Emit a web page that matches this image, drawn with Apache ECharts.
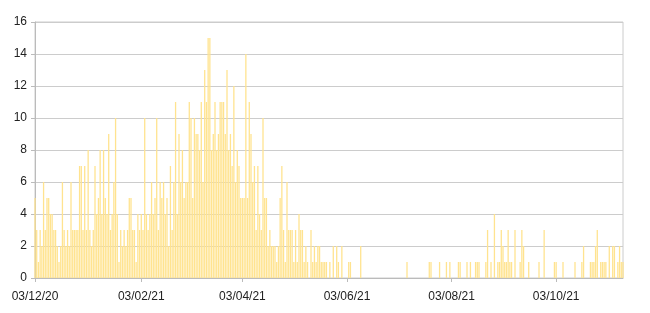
<!DOCTYPE html>
<html>
<head>
<meta charset="utf-8">
<script src="https://cdn.jsdelivr.net/npm/echarts@6/dist/echarts.min.js"></script>
<style>
html,body{margin:0;padding:0;background:#fff;}
#chart{width:650px;height:313px;}
</style>
</head>
<body>
<div id="chart"></div>
<script>
// First day of the daily series (3 Dec 2020); one category per day
var startDate = [2020, 12, 3];
// Daily values (344 days, 03/12/20 .. 11/11/21)
var dailyValues = [
  5,3,1,3,2,6,3,5,5,4,
  4,3,3,2,1,2,6,3,2,3,
  2,6,3,3,3,3,7,7,3,7,
  3,8,3,2,3,7,4,5,8,4,
  8,5,4,9,3,4,6,10,4,1,
  3,2,3,2,3,5,5,3,3,1,
  4,3,4,3,10,4,3,4,6,4,
  5,10,3,6,5,6,4,5,2,7,
  3,6,11,4,9,6,8,5,6,6,
  11,10,5,10,9,9,8,11,6,13,
  11,15,15,8,9,11,8,9,11,11,
  11,9,13,8,9,7,12,6,8,7,
  5,5,5,14,5,11,9,6,7,3,
  7,4,3,10,5,5,2,3,2,2,
  2,1,2,5,7,3,1,6,3,3,
  3,1,3,1,4,3,3,1,2,1,
  0,3,1,2,1,2,2,1,1,1,
  1,0,1,0,2,0,2,1,0,2,
  0,0,0,1,1,0,0,0,0,0,
  2,0,0,0,0,0,0,0,0,0,
  0,0,0,0,0,0,0,0,0,0,
  0,0,0,0,0,0,0,1,0,0,
  0,0,0,0,0,0,0,0,0,0,
  1,1,0,0,0,0,1,0,0,0,
  1,0,1,0,0,0,0,1,1,0,
  0,0,1,0,1,0,0,1,1,1,
  0,0,0,1,3,0,1,0,4,0,
  1,1,3,2,1,1,3,1,1,0,
  3,0,0,1,3,2,0,0,1,0,
  0,0,0,0,1,0,0,3,0,0,
  0,0,0,1,1,0,0,0,1,0,
  0,0,0,0,0,1,0,0,0,1,
  2,0,0,0,1,1,1,2,3,0,
  1,1,1,1,0,2,0,2,2,0,
  1,2,1,1
];
// Tick labels shown on the x axis
var xTickLabels = ['03/12/20','03/02/21','03/04/21','03/06/21','03/08/21','03/10/21'];
var yMin = 0, yMax = 16, yStep = 2;

function pad(n){ return (n < 10 ? '0' : '') + n; }
var categories = [];
var d = new Date(Date.UTC(startDate[0], startDate[1]-1, startDate[2]));
for (var i = 0; i < dailyValues.length; i++) {
  categories.push(pad(d.getUTCDate()) + '/' + pad(d.getUTCMonth()+1) + '/' + String(d.getUTCFullYear()).slice(2));
  d.setUTCDate(d.getUTCDate()+1);
}
function showTick(idx, val){ return xTickLabels.indexOf(categories[idx]) >= 0; }

var chart = echarts.init(document.getElementById('chart'), null, {renderer:'canvas'});
chart.setOption({
  animation: false,
  backgroundColor: '#ffffff',
  grid: {left: 35, right: 27, top: 22, bottom: 35, show: true, borderColor: '#cccccc', borderWidth: 1},
  xAxis: {
    type: 'category',
    data: categories,
    boundaryGap: false,
    axisLine: {show: true, lineStyle: {color: '#bbbbbb'}},
    axisTick: {show: true, interval: showTick, length: 4, lineStyle: {color: '#bbbbbb'}},
    axisLabel: {interval: showTick, color: '#222222', fontSize: 12, fontFamily: 'Liberation Sans, Arial, sans-serif', margin: 13},
    splitLine: {show: false}
  },
  yAxis: {
    type: 'value',
    min: yMin, max: yMax, interval: yStep,
    axisLine: {show: true, lineStyle: {color: '#bbbbbb'}},
    axisTick: {show: true, length: 4, lineStyle: {color: '#bbbbbb'}},
    axisLabel: {color: '#222222', fontSize: 12, fontFamily: 'Liberation Sans, Arial, sans-serif', margin: 8},
    splitLine: {show: true, lineStyle: {color: '#cccccc', width: 1}}
  },
  series: [{
    type: 'bar',
    data: dailyValues,
    barCategoryGap: '25%',
    itemStyle: {color: '#ffe38f'},
    emphasis: {disabled: true}
  }]
});
</script>
</body>
</html>
